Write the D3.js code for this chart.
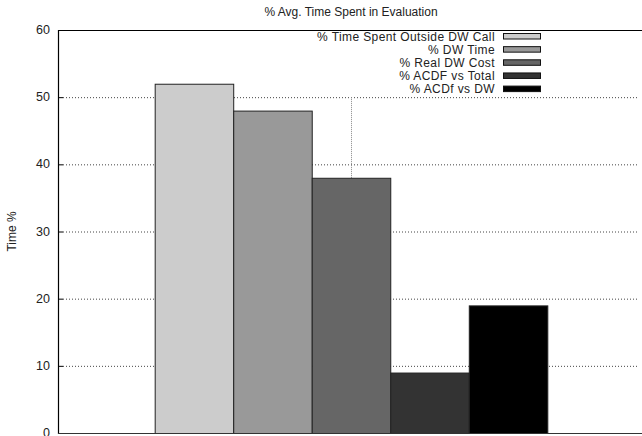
<!DOCTYPE html>
<html>
<head>
<meta charset="utf-8">
<script src="https://cdn.jsdelivr.net/npm/d3@7"></script>
<style>
  html, body { margin: 0; padding: 0; background: #fff; }
  svg { display: block; font-family: "Liberation Sans", Arial, sans-serif; }
</style>
</head>
<body>
<svg id="chart" width="642" height="436"></svg>
<script>
// ---- data ----
const title = "% Avg. Time Spent in Evaluation";
const yLabel = "Time %";
const series = ["% Time Spent Outside DW Call", "% DW Time", "% Real DW Cost", "% ACDF vs Total", "% ACDf vs DW"];
const values = [52, 48, 38, 9, 19];
const colors = ["#cccccc", "#999999", "#666666", "#333333", "#000000"];
const yTicks = [0, 10, 20, 30, 40, 50, 60];

// ---- layout ----
const svg = d3.select("#chart");
const mLeft = 58, mRight = 644, mTop = 30, mBottom = 433;

const y = d3.scaleLinear().domain([0, 60]).range([mBottom, mTop]);
const x = d3.scaleLinear().domain([-1, 1]).range([mLeft, mRight]);
const xb = d3.scaleBand().domain(series).range([x(-0.67), x(0.67)]).padding(0);

// horizontal grid (dotted)
svg.append("g").selectAll("line").data(yTicks.filter(t => t > 0 && t < 60)).join("line")
  .attr("x1", mLeft + 5).attr("x2", mRight - 5)
  .attr("y1", d => y(d) + 0.5).attr("y2", d => y(d) + 0.5)
  .attr("stroke", "#444").attr("stroke-width", 1).attr("stroke-dasharray", "1,2");

// vertical grid at category tick
svg.append("line")
  .attr("x1", x(0) + 0.5).attr("x2", x(0) + 0.5)
  .attr("y1", y(50)).attr("y2", mBottom)
  .attr("stroke", "#888").attr("stroke-width", 1).attr("stroke-dasharray", "1,1");

// bars
svg.append("g").selectAll("rect").data(values).join("rect")
  .attr("x", (d, i) => xb(series[i]) + 0.5)
  .attr("y", d => y(d) + 0.5)
  .attr("width", xb.bandwidth())
  .attr("height", d => mBottom - y(d))
  .attr("fill", (d, i) => colors[i])
  .attr("stroke", "#222").attr("stroke-width", 1);

// axis tick marks (left)
svg.append("g").selectAll("line").data(yTicks).join("line")
  .attr("x1", mLeft).attr("x2", mLeft + 5)
  .attr("y1", d => y(d) + 0.5).attr("y2", d => y(d) + 0.5)
  .attr("stroke", "#000");

// tick labels
svg.append("g").selectAll("text").data(yTicks).join("text")
  .attr("x", 50).attr("y", d => y(d) + 4)
  .attr("text-anchor", "end").attr("font-size", 12.5).attr("fill", "#222")
  .text(d => d);

// border
svg.append("line").attr("x1", mLeft + 0.5).attr("x2", mLeft + 0.5).attr("y1", mTop).attr("y2", mBottom + 1).attr("stroke", "#000").attr("stroke-width", 1.2);
svg.append("line").attr("x1", mLeft).attr("x2", mRight).attr("y1", mTop + 0.5).attr("y2", mTop + 0.5).attr("stroke", "#000").attr("stroke-width", 1.2);
svg.append("line").attr("x1", mLeft).attr("x2", mRight).attr("y1", mBottom + 0.5).attr("y2", mBottom + 0.5).attr("stroke", "#333").attr("stroke-width", 1.2);

// title
svg.append("text").attr("x", x(0)).attr("y", 16).attr("text-anchor", "middle")
  .attr("font-size", 12).attr("fill", "#222").text(title);

// y label
svg.append("text").attr("transform", `translate(16,${(mTop + mBottom) / 2}) rotate(-90)`)
  .attr("text-anchor", "middle").attr("font-size", 12).attr("fill", "#222").text(yLabel);

// legend
const lg = svg.append("g");
const rowY = d3.scaleLinear().domain([0, 4]).range([36, 88.6]);
series.forEach((s, i) => {
  lg.append("text").attr("x", 495).attr("y", rowY(i) + 4.5)
    .attr("text-anchor", "end").attr("font-size", 12).attr("letter-spacing", 0.4)
    .attr("fill", "#222").text(s);
  lg.append("rect").attr("x", 503.5).attr("y", rowY(i) - 2.5)
    .attr("width", 37).attr("height", 5.5)
    .attr("fill", colors[i]).attr("stroke", "#111").attr("stroke-width", 1);
});
</script>
</body>
</html>
